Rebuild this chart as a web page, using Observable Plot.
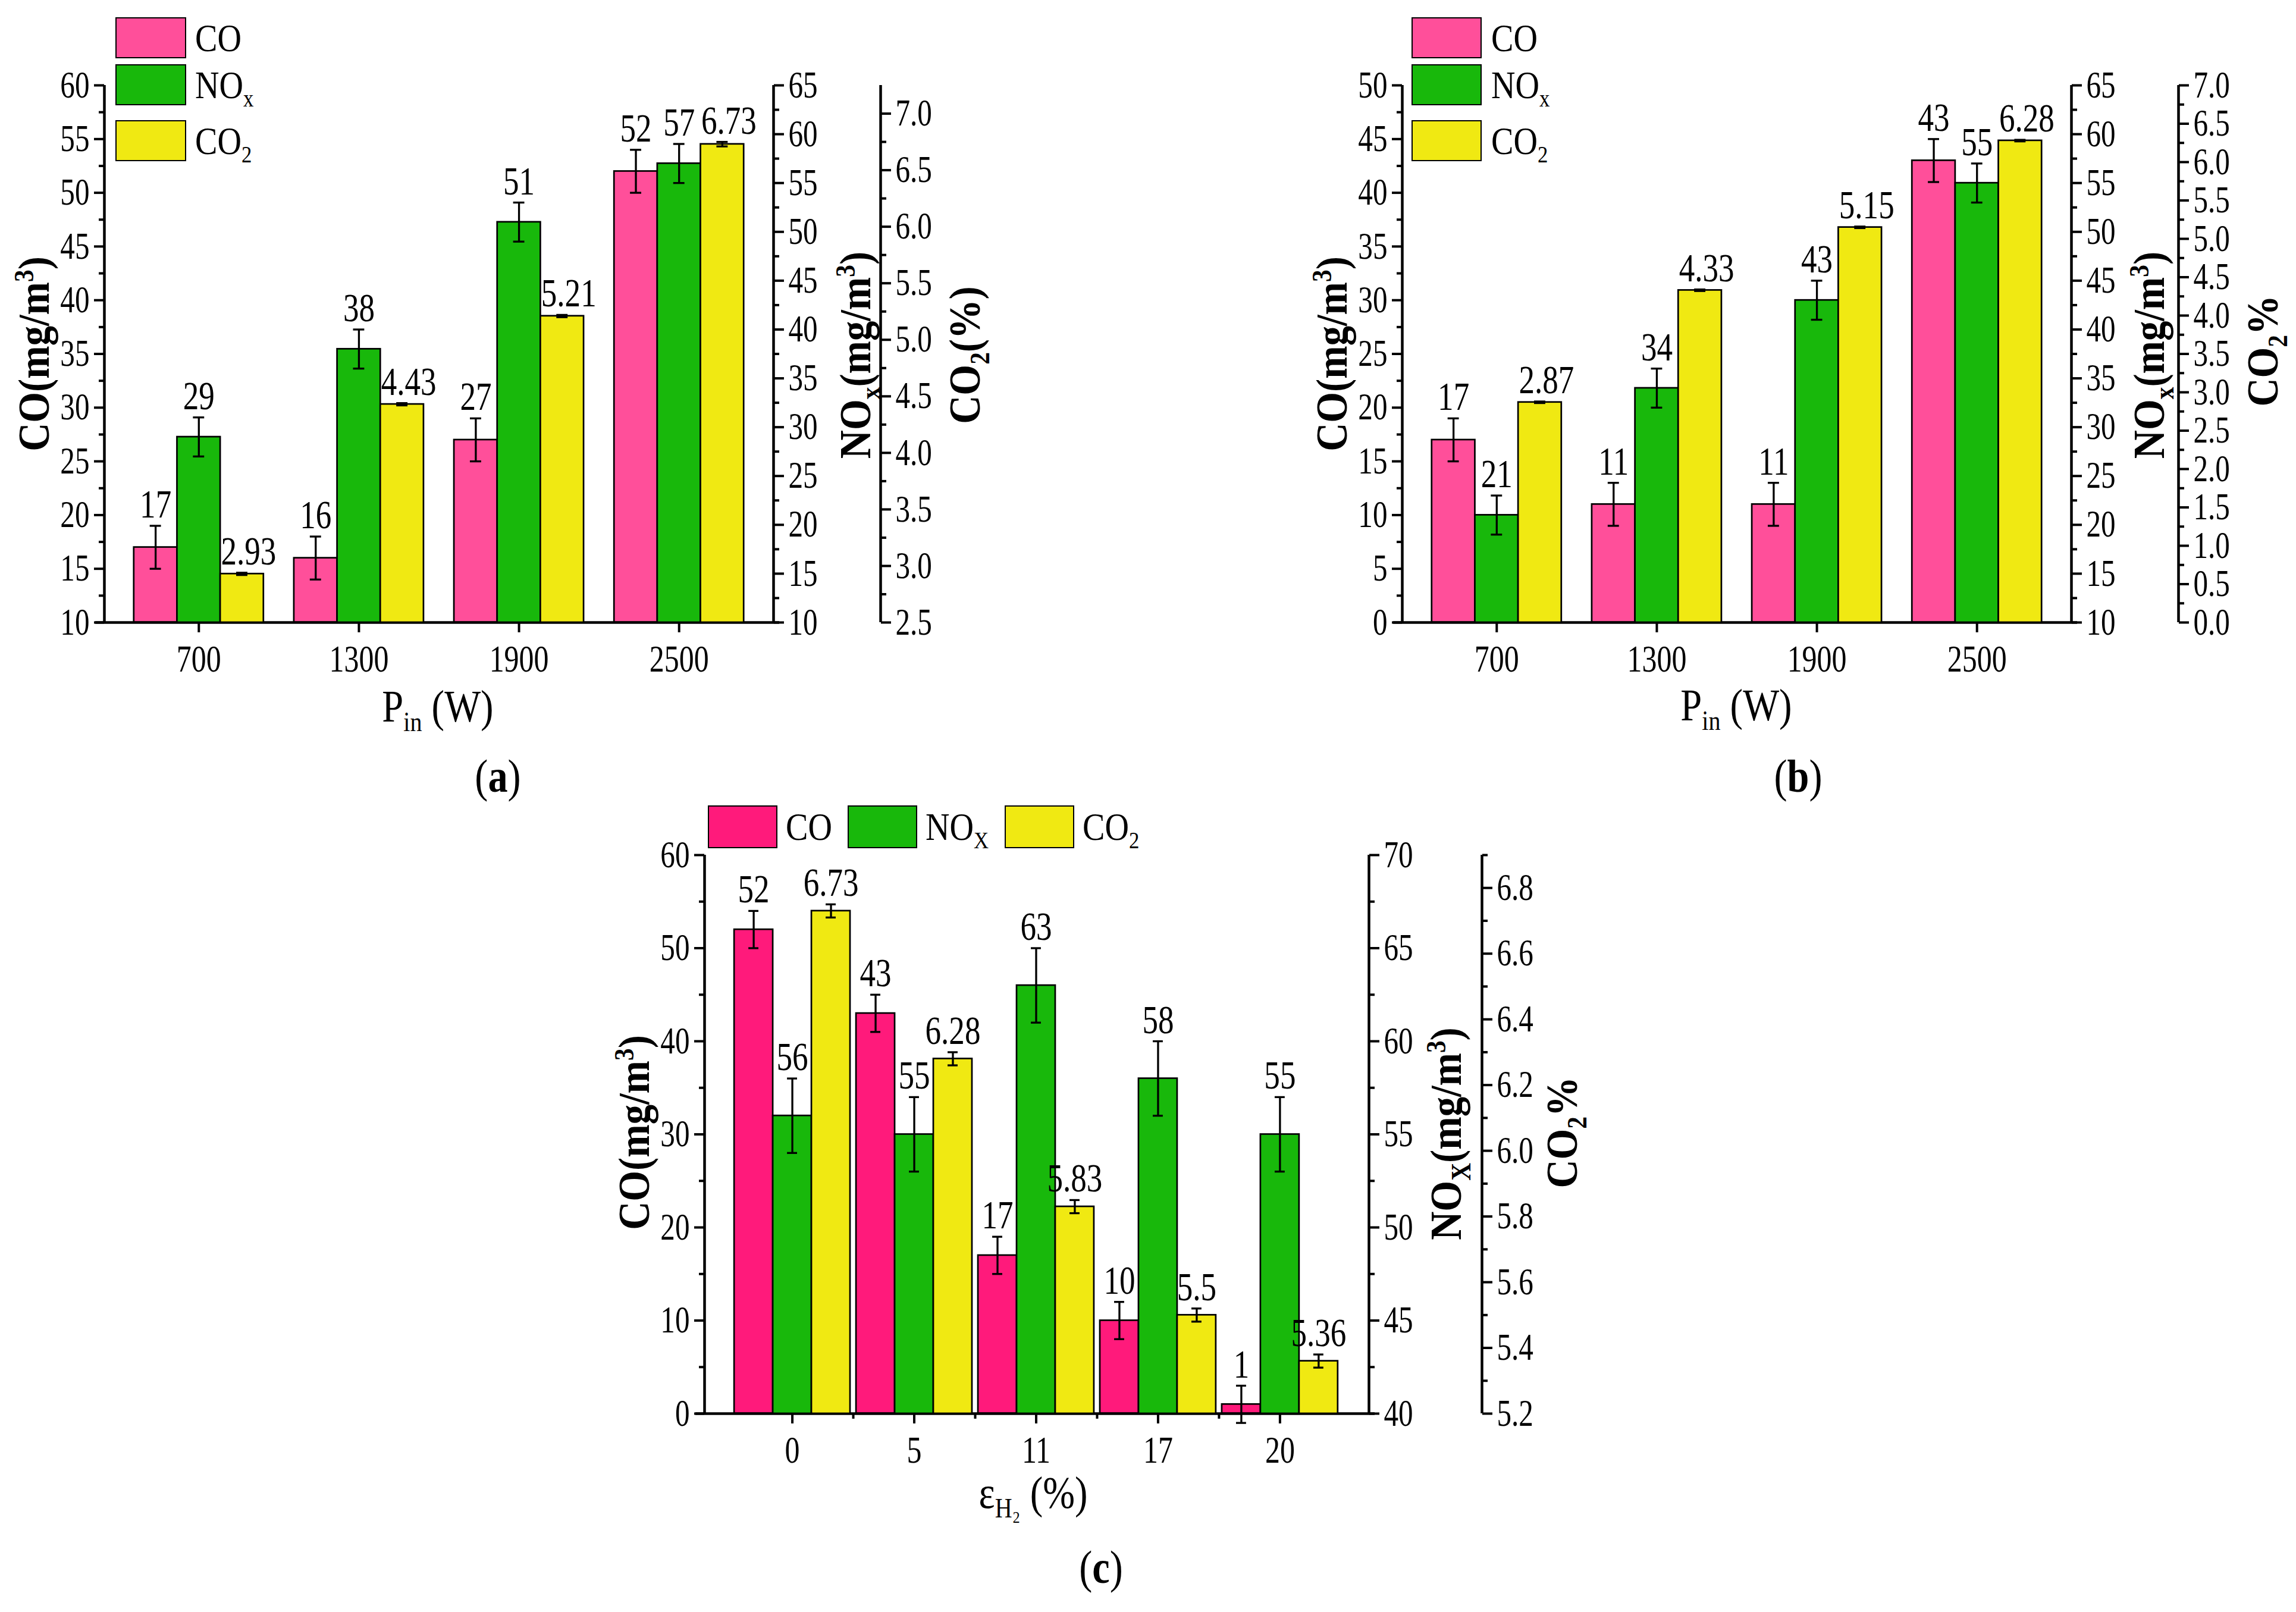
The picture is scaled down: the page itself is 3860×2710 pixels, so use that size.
<!DOCTYPE html>
<html>
<head>
<meta charset="utf-8">
<script src="https://cdn.jsdelivr.net/npm/d3@7"></script>
<script src="https://cdn.jsdelivr.net/npm/@observablehq/plot@0.6"></script>
<style>
  body { margin: 0; background: #fff; }
  #page { position: relative; width: 3860px; height: 2710px; font-family: "Liberation Serif", "Times New Roman", serif; color: #000; overflow: hidden; }
  .panel { position: absolute; }
  .panel svg { position: absolute; left: 0; top: 0; }
  .t { position: absolute; white-space: nowrap; line-height: 1; transform: translate(-50%, -50%) scaleX(0.85); }
  .l { position: absolute; white-space: nowrap; line-height: 1; transform-origin: left center; transform: translateY(-50%) scaleX(0.85); }
  .v { transform: translate(-50%, -50%) rotate(-90deg) scaleX(0.9); font-weight: bold; }
  sub, sup { font-size: 0.62em; line-height: 0; }
  .sw { position: absolute; border: 2.5px solid #000; box-sizing: border-box; }
</style>
</head>
<body>
<div id="page"></div>
<script>
// (a) and (b): input power P_in (W)
const powerCats = ["700", "1300", "1900", "2500"];
const aCO = [17, 16, 27, 52];
const aCOErr = [2, 2, 2, 2];
const aNOx = [29, 38, 51, 57];
const aNOxErr = [2, 2, 2, 2];
const aCO2 = [2.93, 4.43, 5.21, 6.73];
const aCO2Err = [0.01, 0.01, 0.01, 0.02];

const bCO = [17, 11, 11, 43];
const bCOErr = [2, 2, 2, 2];
const bNOx = [21, 34, 43, 55];
const bNOxErr = [2, 2, 2, 2];
const bCO2 = [2.87, 4.33, 5.15, 6.28];
const bCO2Err = [0.01, 0.01, 0.01, 0.01];

// (c): hydrogen share (%)
const h2Cats = ["0", "5", "11", "17", "20"];
const cCO = [52, 43, 17, 10, 1];
const cCOErr = [2, 2, 2, 2, 2];
const cNOx = [56, 55, 63, 58, 55];
const cNOxErr = [2, 2, 2, 2, 2];
const cCO2 = [6.73, 6.28, 5.83, 5.5, 5.36];
const cCO2Err = [0.02, 0.02, 0.02, 0.02, 0.02];

const pinkAB = "#ff4f9a", pinkC = "#ff1a7b", green = "#18b80b", yellow = "#f0e912";
const page = document.getElementById("page");

function layer(p, s, first) {
  const rows = p.cats.map((c, i) => ({
    xc: i + (s.slot - 1) * p.barW,
    v: s.values[i],
    e: s.errors[i],
    lab: String(s.values[i])
  }));
  const half = p.barW / 2, cap = p.barW * 0.13;
  const marks = [
    Plot.rect(rows, {x1: (d) => d.xc - half, x2: (d) => d.xc + half, y1: s.domain[0], y2: "v",
      fill: s.color, stroke: "#000", strokeWidth: 2.7}),
    Plot.ruleX(rows, {x: "xc", y1: (d) => d.v - d.e, y2: (d) => d.v + d.e, stroke: "#000", strokeWidth: 3.3}),
    Plot.ruleY(rows, {y: (d) => d.v + d.e, x1: (d) => d.xc - cap, x2: (d) => d.xc + cap, stroke: "#000", strokeWidth: 3.3}),
    Plot.ruleY(rows, {y: (d) => d.v - d.e, x1: (d) => d.xc - cap, x2: (d) => d.xc + cap, stroke: "#000", strokeWidth: 3.3}),
    Plot.text(rows, {x: "xc", y: (d) => d.v + d.e, text: "lab", lineAnchor: "bottom", dx: s.labelDx || 0, dy: -14, fontSize: 68}),
    Plot.axisY({anchor: s.anchor, dx: s.dx, ticks: s.majors, tickFormat: s.fmt, tickSize: 17, tickPadding: 8,
      strokeWidth: 4, fontSize: 63, label: null}),
    Plot.axisY({anchor: s.anchor, dx: s.dx, ticks: s.minors, tickFormat: () => "", tickSize: 9,
      strokeWidth: 4, label: null}),
    Plot.ruleX([s.anchor == "left" ? p.xDomain[0] : p.xDomain[1]], {dx: s.dx, stroke: "#000", strokeWidth: 4.5})
  ];
  if (first) {
    marks.push(
      Plot.ruleY([s.domain[0]], {stroke: "#000", strokeWidth: 4.5, insetLeft: -15, insetRight: -10}),
      Plot.axisX({ticks: d3.range(p.cats.length), tickFormat: (i) => p.cats[i], tickSize: 17, tickPadding: 20,
        strokeWidth: 4, fontSize: 64, label: null})
    );
    if (p.minorX) {
      marks.push(Plot.axisX({ticks: d3.range(0.5, p.cats.length - 1, 1), tickFormat: () => "", tickSize: 9,
        strokeWidth: 4, label: null}));
    }
  }
  return Plot.plot({
    width: p.width,
    height: p.height,
    marginLeft: 175,
    marginRight: p.width - 175 - p.frameW,
    marginTop: 143,
    marginBottom: p.height - 143 - p.frameH,
    x: {type: "linear", domain: p.xDomain, axis: first ? undefined : null},
    y: {domain: s.domain},
    style: {background: "transparent", fontFamily: "Liberation Serif", fontSize: "63px", color: "#000", overflow: "visible"},
    marks
  });
}

// the original uses a narrow Times face: squeeze the SVG labels horizontally
function condense(svg, k) {
  svg.querySelectorAll("text").forEach((t) => {
    const w = t.getComputedTextLength();
    if (w > 0) {
      t.setAttribute("textLength", w * k);
      t.setAttribute("lengthAdjust", "spacingAndGlyphs");
    }
  });
}

function panel(p) {
  const div = document.createElement("div");
  div.className = "panel";
  div.style.left = p.left + "px";
  div.style.top = p.top + "px";
  div.style.width = p.width + "px";
  div.style.height = p.height + "px";
  page.appendChild(div);
  p.series.forEach((s, k) => {
    const svg = layer(p, s, k === 0);
    div.appendChild(svg);
    condense(svg, 0.78);
  });
}

function text(html, x, y, size, cls) {
  const el = document.createElement("div");
  el.className = cls;
  el.innerHTML = html;
  el.style.left = x + "px";
  el.style.top = y + "px";
  el.style.fontSize = size + "px";
  page.appendChild(el);
}

function swatch(color, x, y, w, h) {
  const el = document.createElement("div");
  el.className = "sw";
  Object.assign(el.style, {left: x + "px", top: y + "px", width: w + "px", height: h + "px", background: color});
  page.appendChild(el);
}

const co2Fmt = d3.format(".1f");

// (a)
panel({
  left: 0, top: 0, width: 1670, height: 1160, frameW: 1125, frameH: 903,
  cats: powerCats, xDomain: [-0.59, 3.59], barW: 0.27, minorX: false,
  series: [
    {slot: 0, values: aCO, errors: aCOErr, color: pinkAB, domain: [10, 60], anchor: "left", dx: 0,
      majors: d3.range(10, 61, 5), minors: d3.range(12.5, 60, 5), fmt: d3.format("d")},
    {slot: 1, values: aNOx, errors: aNOxErr, color: green, domain: [10, 65], anchor: "right", dx: 0,
      majors: d3.range(10, 66, 5), minors: d3.range(12.5, 65, 5), fmt: d3.format("d")},
    {slot: 2, values: aCO2, errors: aCO2Err, color: yellow, domain: [2.5, 7.25], anchor: "right", dx: 180, labelDx: 11,
      majors: d3.range(2.5, 7.01, 0.5), minors: d3.range(2.75, 7, 0.5), fmt: co2Fmt}
  ]
});

// (b)
panel({
  left: 2182, top: 0, width: 1670, height: 1160, frameW: 1125, frameH: 903,
  cats: powerCats, xDomain: [-0.59, 3.59], barW: 0.27, minorX: false,
  series: [
    {slot: 0, values: bCO, errors: bCOErr, color: pinkAB, domain: [0, 50], anchor: "left", dx: 0,
      majors: d3.range(0, 51, 5), minors: d3.range(2.5, 50, 5), fmt: d3.format("d")},
    {slot: 1, values: bNOx, errors: bNOxErr, color: green, domain: [10, 65], anchor: "right", dx: 0,
      majors: d3.range(10, 66, 5), minors: d3.range(12.5, 65, 5), fmt: d3.format("d")},
    {slot: 2, values: bCO2, errors: bCO2Err, color: yellow, domain: [0, 7], anchor: "right", dx: 180, labelDx: 11,
      majors: d3.range(0, 7.01, 0.5), minors: d3.range(0.25, 7, 0.5), fmt: co2Fmt}
  ]
});

// (c)
panel({
  left: 1009, top: 1294, width: 1662, height: 1196, frameW: 1117, frameH: 939,
  cats: h2Cats, xDomain: [-0.72, 4.73], barW: 0.317, minorX: true,
  series: [
    {slot: 0, values: cCO, errors: cCOErr, color: pinkC, domain: [0, 60], anchor: "left", dx: 0,
      majors: d3.range(0, 61, 10), minors: d3.range(5, 60, 10), fmt: d3.format("d")},
    {slot: 1, values: cNOx, errors: cNOxErr, color: green, domain: [40, 70], anchor: "right", dx: 0,
      majors: d3.range(40, 71, 5), minors: d3.range(42.5, 70, 5), fmt: d3.format("d")},
    {slot: 2, values: cCO2, errors: cCO2Err, color: yellow, domain: [5.2, 6.9], anchor: "right", dx: 190,
      majors: d3.range(5.2, 6.81, 0.2), minors: d3.range(5.3, 6.91, 0.2), fmt: co2Fmt}
  ]
});

// axis titles
const coT = "CO(mg/m<sup>3</sup>)";
text(coT, 57, 595, 74, "t v");
text("NO<sub>x</sub>(mg/m<sup>3</sup>)", 1438, 597, 74, "t v");
text("CO<sub>2</sub>(%)", 1622, 597, 74, "t v");
text(coT, 2239, 595, 74, "t v");
text("NO<sub>x</sub>(mg/m<sup>3</sup>)", 3613, 597, 74, "t v");
text("CO<sub>2</sub>%", 3804, 590, 74, "t v");
text(coT, 1066, 1904, 74, "t v");
text("NO<sub>X</sub>(mg/m<sup>3</sup>)", 2431, 1906, 74, "t v");
text("CO<sub>2</sub>%", 2626, 1904, 74, "t v");

text("P<sub>in</sub> (W)", 736, 1187, 76, "t");
text("P<sub>in</sub> (W)", 2919, 1185, 76, "t");
text("ε<sub>H₂</sub> (%)", 1737, 2509, 76, "t");

text("(<b>a</b>)", 837, 1305, 78, "t");
text("(<b>b</b>)", 3023, 1305, 78, "t");
text("(<b>c</b>)", 1851, 2635, 78, "t");

// legends
[[pinkAB, "CO", 29], [green, "NO<sub>x</sub>", 108], [yellow, "CO<sub>2</sub>", 202]].forEach(([c, t, y]) => {
  swatch(c, 194, y, 119, 69);
  text(t, 328, y + 35, 66, "l");
  swatch(c, 2373, y, 118, 69);
  text(t, 2507, y + 35, 66, "l");
});
[[pinkC, "CO", 1190], [green, "NO<sub>X</sub>", 1425], [yellow, "CO<sub>2</sub>", 1689]].forEach(([c, t, x]) => {
  swatch(c, x, 1354, 117, 72);
  text(t, x + 131, 1390, 66, "l");
});
</script>
</body>
</html>
